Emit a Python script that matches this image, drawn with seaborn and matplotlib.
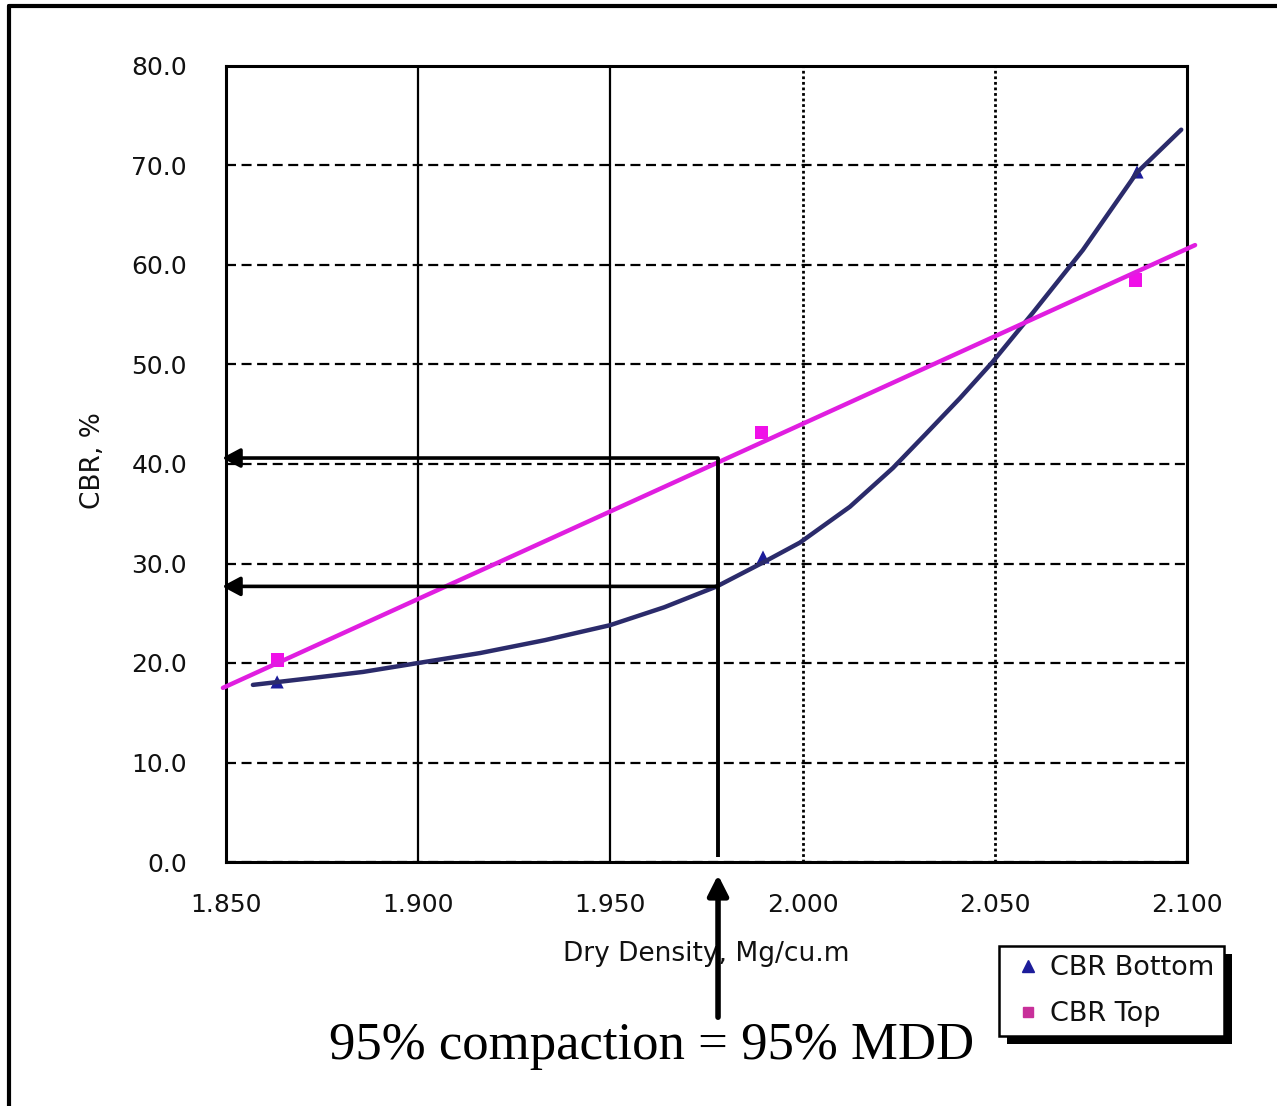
import matplotlib
matplotlib.use('Agg')
import pandas as pd
import matplotlib.pyplot as plt
from matplotlib.lines import Line2D
from matplotlib.patches import Rectangle
import seaborn as sns

# measured CBR points
density_bottom = [1.8633, 1.9897, 2.0870]
cbr_bottom = [18.1, 30.65, 69.35]
density_top = [1.8633, 1.9894, 2.0867]
cbr_top = [20.3, 43.2, 58.5]

# trendlines
trend_bottom_x = [1.8570, 1.8726, 1.8856, 1.9000, 1.9161, 1.9330, 1.9499, 1.9640, 1.9777,
                  1.9897, 1.9993, 2.0123, 2.0235, 2.0320, 2.0409, 2.0493, 2.0599, 2.0729,
                  2.0870, 2.0985]
trend_bottom_y = [17.8, 18.5, 19.1, 20.0, 21.0, 22.3, 23.8, 25.6, 27.7,
                  30.1, 32.1, 35.7, 39.6, 43.0, 46.6, 50.2, 55.2, 61.5,
                  69.3, 73.6]
trend_top_x = [1.8492, 2.1021]
trend_top_y = [17.5, 62.0]

# 95% MDD read-off
mdd95 = 1.978
cbr95_top = 40.6
cbr95_bottom = 27.7

x_ticks = [1.850, 1.900, 1.950, 2.000, 2.050, 2.100]
y_ticks = [0, 10, 20, 30, 40, 50, 60, 70, 80]
series_names = ['CBR Bottom', 'CBR Top']

c_bottom_line = '#2B2B6B'
c_bottom_mark = '#1C1C9A'
c_top_line = '#E01EE0'
c_top_mark = '#F010E8'

sns.set_style('white')
plt.rcParams['font.family'] = ['DejaVu Sans']

W, H = 1277, 1106
fig = plt.figure(figsize=(W / 100, H / 100), dpi=100)
ax = fig.add_axes([226 / W, 1 - 862 / H, (1187 - 226) / W, (862 - 66) / H])

pts = pd.DataFrame({
    'density': density_bottom + density_top,
    'cbr': cbr_bottom + cbr_top,
    'series': [series_names[0]] * 3 + [series_names[1]] * 3,
})
sns.scatterplot(data=pts, x='density', y='cbr', hue='series', style='series',
                markers={series_names[0]: '^', series_names[1]: 's'},
                palette={series_names[0]: c_bottom_mark, series_names[1]: c_top_mark},
                s=90, linewidth=0, legend=False, ax=ax, zorder=3)

sns.lineplot(x=trend_bottom_x, y=trend_bottom_y, sort=False, estimator=None,
             color=c_bottom_line, lw=3.2, ax=ax, clip_on=False, zorder=4)
sns.lineplot(x=trend_top_x, y=trend_top_y, sort=False, estimator=None,
             color=c_top_line, lw=3.2, ax=ax, clip_on=False, zorder=4)

ax.set_xlim(1.85, 2.10)
ax.set_ylim(0, 80)
ax.set_xticks(x_ticks)
ax.set_yticks(y_ticks)
ax.set_xticklabels([f'{v:.3f}' for v in x_ticks])
ax.set_yticklabels([f'{v:.1f}' for v in y_ticks])
ax.tick_params(axis='both', length=0, labelsize=18, colors='#111111')
ax.tick_params(axis='x', pad=22)
ax.tick_params(axis='y', pad=28)

ax.set_axisbelow(True)
ax.grid(True, axis='y', color='black', lw=1.6, linestyle=(0, (4.5, 2.5)))
ax.grid(True, axis='x', color='black', lw=1.6, linestyle='-')
for gl, v in zip(ax.get_xgridlines(), x_ticks):
    if v >= 1.99:
        gl.set_linestyle((0, (1, 1)))
        gl.set_linewidth(2)

for sp in ax.spines.values():
    sp.set_visible(True)
    sp.set_color('black')
    sp.set_linewidth(2.2)

ax.set_xlabel('Dry Density, Mg/cu.m', fontsize=19, color='#111111')
ax.set_ylabel('CBR, %', fontsize=19, color='#111111')
ax.xaxis.set_label_coords(0.5, (862 - 954) / 796)
ax.xaxis.label.set_va('center')
ax.yaxis.set_label_coords((93 - 226) / 961, 0.5 + 3 / 796)
ax.yaxis.label.set_va('center')

# read-off arrows at 95% MDD
arrow_kw = dict(arrowstyle='-|>,head_length=0.6,head_width=0.32', color='black',
                lw=2.6, mutation_scale=18, shrinkA=0, shrinkB=0)
for yv in [cbr95_top, cbr95_bottom]:
    ax.annotate('', xy=(1.849, yv), xytext=(mdd95, yv), arrowprops=arrow_kw,
                annotation_clip=False, zorder=6)
ax.plot([mdd95, mdd95], [cbr95_top, 0.5], color='black', lw=2.8, zorder=6,
        solid_capstyle='butt')
ax.annotate('', xy=(mdd95, -1.3), xytext=(mdd95, -15.6),
            arrowprops=dict(arrowstyle='-|>,head_length=0.67,head_width=0.34',
                            color='black', lw=4, mutation_scale=18,
                            shrinkA=0, shrinkB=0),
            annotation_clip=False, zorder=6)

fig.text(652 / W, 1 - 1046 / H, '95% compaction = 95% MDD', ha='center', va='center',
         fontsize=38, family=['Liberation Serif', 'DejaVu Serif'], color='black')

# legend with a solid drop shadow
handles = [
    Line2D([], [], marker='^', color=c_bottom_mark, ls='none', ms=8),
    Line2D([], [], marker='s', color='#C8309A', ls='none', ms=7),
]
leg = fig.legend(handles, series_names, loc='upper left',
                 bbox_to_anchor=(999 / W, 1 - 946 / H), bbox_transform=fig.transFigure,
                 frameon=True, fancybox=False, edgecolor='black', framealpha=1,
                 fontsize=19.5, handlelength=1.45, handletextpad=0.1, borderpad=0.35,
                 labelspacing=0.72, borderaxespad=0)
leg.get_frame().set_linewidth(1.8)
for t in leg.get_texts():
    t.set_color('#111111')

fig.canvas.draw()
bb = leg.get_window_extent()
fig.add_artist(Rectangle((bb.x0 + 8, bb.y0 - 8), bb.width, bb.height, transform=None,
                         facecolor='black', edgecolor='none', zorder=leg.get_zorder() - 0.1))

# outer frame (left and top edges of the pasted chart)
fig.add_artist(Line2D([9 / W, 9 / W], [0, 1 - 6 / H], transform=fig.transFigure,
                      color='black', lw=3))
fig.add_artist(Line2D([9 / W, 1], [1 - 6 / H, 1 - 6 / H], transform=fig.transFigure,
                      color='black', lw=3))

fig.savefig('out.png', dpi=100)
